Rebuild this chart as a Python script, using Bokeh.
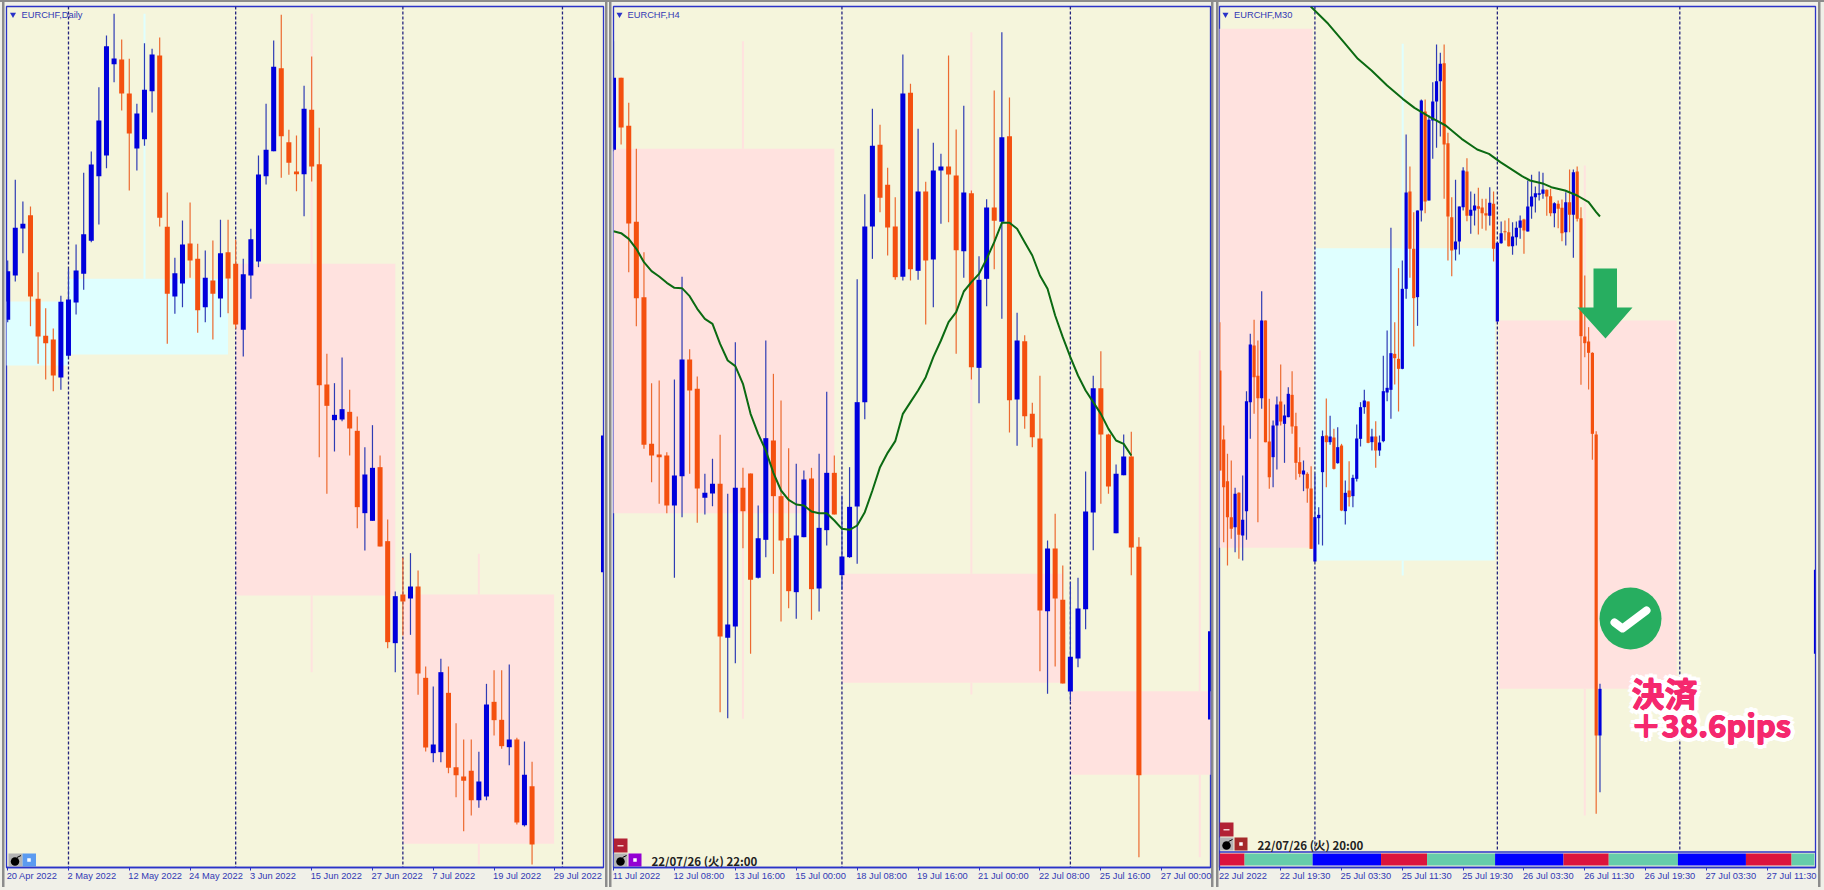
from bokeh.embed import file_html
from bokeh.resources import INLINE
from bokeh.plotting import figure
from bokeh.layouts import row
from bokeh.models import Range1d, FixedTicker, ColumnDataSource, LinearAxis
from bokeh.core.properties import value

# ---------- Daily panel (values are readings on a common vertical price scale) ----------
d_high = [780,538,603,618,815,923,984,886,805,732,517,453,260,105,40,117,175,310,128,145,111,576,772,660,606,730,750,720,658,658,718,775,685,465,310,120,43,388,405,256,168,382,1060,1148,1071,1168,1248,1340,1274,1365,1557,1773,1672,1658,1710,1998,2058,1975,1998,2168,2217,2217,2254,2050,2009,2009,1992,2212,2223,2284]
d_low = [965,843,758,977,1090,1137,1172,1168,1070,942,868,725,672,503,245,330,570,510,436,336,678,1030,940,920,832,997,965,1017,950,938,985,1068,895,800,552,452,532,523,572,647,543,1370,1480,1353,1262,1365,1583,1650,1561,1638,1943,2015,1905,1903,2083,2253,2285,2285,2318,2390,2492,2445,2422,2399,2205,2245,2294,2472,2478,2592]
d_top = [812,682,670,644,895,1006,1017,904,897,810,701,492,360,137,174,177,279,339,268,162,165,679,818,732,729,775,832,840,758,755,790,821,716,522,448,199,203,425,513,325,328,491,1152,1243,1226,1234,1291,1422,1402,1400,1622,1787,1782,1758,1758,2032,2232,2015,2077,2300,2328,2311,2343,2112,2104,2158,2217,2217,2323,2357]
d_bot = [958,825,684,888,1008,1028,1125,1131,1066,906,820,721,527,465,191,279,399,444,416,272,652,880,888,849,780,929,920,880,894,834,972,988,825,783,527,452,407,487,521,521,498,1154,1216,1259,1257,1284,1520,1538,1561,1638,1925,1928,1803,1794,2019,2241,2258,2255,2302,2324,2341,2399,2399,2388,2159,2237,2240,2466,2474,2532]
d_dir = "bbboooobbb" "bbbbboobbb" "oobboobobo" "obbbbbooob" "ooobboobbo" "oboboobboo" "oobboobobo"
d_ticks = [0, 8, 16, 24, 32, 40, 48, 56, 64, 72]
d_labels = ["20 Apr 2022", "2 May 2022", "12 May 2022", "24 May 2022", "3 Jun 2022", "15 Jun 2022", "27 Jun 2022", "7 Jul 2022", "19 Jul 2022", "29 Jul 2022"]
d_seps = [8, 30, 52, 73]
d_zone_l = [-0.2, 8, 30, 52]
d_zone_r = [8, 29, 51, 71.9]
d_zone_t = [903, 835, 790, 1782]
d_zone_b = [1095, 1062, 1785, 2530]
d_zone_c = ["c", "c", "p", "p"]
d_sh_x = [18, 40, 40, 62, 62]
d_sh_t = [40, 40, 1785, 1660, 2530]
d_sh_b = [835, 790, 2015, 1782, 2592]
d_sh_c = ["c", "p", "p", "p", "p"]
d_edge = [1305, 1715]

# ---------- H4 panel ----------
h_high = [122,232,307,445,755,1148,1140,1355,1137,829,1046,1128,1420,1375,1303,1480,1025,1402,1419,1515,1020,1120,1200,1343,1390,1410,1402,1360,1174,1365,1485,1400,836,581,325,373,502,590,162,250,385,544,427,460,165,387,316,570,767,596,270,95,291,937,1004,1207,1126,1620,1540,1695,1745,1732,1413,1126,1052,1300,1392,1302,1294,1610]
h_low = [452,432,815,977,1345,1445,1510,1538,1732,1550,1420,1567,1542,1517,2135,2153,1988,1643,1960,1734,1670,1720,1863,1823,1855,1610,1858,1833,1635,1542,1768,1672,1690,1256,775,635,765,838,840,840,838,972,920,670,665,1060,832,1137,1208,917,806,955,1296,1336,1285,1340,2012,2080,1998,2049,2102,2000,1886,1649,1510,1480,1598,1424,1724,2570]
h_top = [232,232,376,664,890,1330,1362,1365,1425,1077,1077,1165,1477,1450,1450,1872,1462,1462,1419,1613,1313,1320,1487,1613,1605,1437,1434,1582,1417,1417,1668,1519,1205,678,436,433,553,678,279,277,573,573,510,498,498,525,576,578,838,621,621,410,407,1020,1022,1240,1314,1644,1644,1798,1969,1824,1533,1163,1163,1302,1420,1368,1368,1639]
h_bot = [448,381,669,893,1333,1365,1370,1515,1515,1427,1170,1464,1492,1479,1908,1912,1878,1532,1738,1732,1618,1487,1620,1772,1775,1610,1766,1764,1589,1542,1724,1670,1518,1205,678,592,681,830,829,806,811,780,777,510,522,749,752,1100,1102,835,661,664,1199,1197,1247,1310,1830,1832,1794,2049,2073,1974,1826,1536,1302,1458,1598,1424,1641,2324]
h_dir = "booooooobb" "oobbobboob" "booobbobbo" "bbbbbooobo" "bobboobobb" "oboboooboo" "bbbboobboo"
h_ma = [692,698,715,745,785,812,828,847,862,863,887,925,955,970,1030,1080,1097,1150,1240,1300,1350,1417,1470,1498,1512,1515,1533,1538,1538,1560,1585,1588,1575,1535,1470,1400,1357,1322,1240,1205,1170,1130,1070,1020,965,935,873,845,820,775,725,667,667,685,725,765,825,865,945,1010,1070,1125,1170,1205,1240,1285,1320,1330,1365]
h_ticks = [0, 8, 16, 24, 32, 40, 48, 56, 64, 72]
h_labels = ["11 Jul 2022", "12 Jul 08:00", "13 Jul 16:00", "15 Jul 00:00", "18 Jul 08:00", "19 Jul 16:00", "21 Jul 00:00", "22 Jul 08:00", "25 Jul 16:00", "27 Jul 00:00"]
h_seps = [30, 60]
h_zone_l = [-0.2, 30, 60]
h_zone_r = [29, 59, 79]
h_zone_t = [445, 1720, 2072]
h_zone_b = [1538, 2047, 2323]
h_zone_c = ["p", "p", "p"]
h_sh_x = [17, 17, 47, 47, 77, 77]
h_sh_t = [122, 1538, 95, 2047, 1050, 2323]
h_sh_b = [445, 2155, 1720, 2082, 2072, 2570]
h_sh_c = ["p", "p", "p", "p", "p", "p"]
h_edge = [1892, 2157]

# ---------- M30 panel ----------
m_high = [965,1275,1360,1380,1462,1475,1425,1172,1000,958,1020,872,960,1195,1260,1188,1092,1212,1160,1112,1237,1340,1380,1415,1397,1420,1520,1290,1194,1246,1285,1280,1330,1440,1382,1423,1272,1205,1168,1203,1285,1262,1305,1066,990,682,965,803,780,402,498,635,630,297,297,345,245,132,157,132,397,590,538,618,500,473,573,580,562,595,595,560,573,727,663,660,653,665,663,645,655,540,523,558,513,517,567,565,605,600,597,575,507,507,498,620,825,980,1055,1292,2050]
m_low = [1410,1625,1695,1615,1655,1675,1680,1618,1315,1240,1565,1225,1325,1465,1460,1407,1275,1387,1250,1300,1438,1430,1472,1507,1645,1685,1632,1635,1460,1333,1407,1390,1532,1572,1518,1520,1443,1338,1240,1328,1350,1402,1366,1325,1202,1255,1152,1233,1106,895,832,1038,976,663,638,600,475,442,408,595,780,827,780,762,630,662,700,675,702,685,690,675,783,963,730,720,738,763,735,715,760,693,655,636,600,595,646,647,680,683,722,735,695,772,663,1153,1070,1167,1378,2440,2375]
m_top = [1110,1317,1442,1550,1480,1477,1558,1202,1032,1035,1126,960,960,1323,1275,1212,1203,1245,1180,1183,1277,1385,1410,1420,1464,1550,1543,1307,1305,1308,1311,1340,1335,1477,1470,1432,1314,1220,1200,1203,1308,1308,1326,1172,1162,1058,1060,1075,865,576,573,745,630,300,333,358,303,242,190,188,428,650,723,618,510,513,628,615,617,621,638,607,610,727,698,692,695,708,682,660,657,618,588,578,578,567,568,587,608,610,622,605,605,515,513,653,1008,1023,1057,1302,2065]
m_bot = [1410,1460,1550,1585,1580,1603,1605,1532,1205,1130,1193,1193,1325,1430,1370,1275,1263,1270,1250,1278,1387,1420,1422,1464,1645,1683,1553,1415,1325,1325,1405,1388,1530,1532,1490,1487,1435,1315,1220,1327,1325,1350,1350,1322,1176,1168,1073,1105,1105,865,745,893,890,630,603,600,360,303,242,432,648,750,747,723,620,646,646,630,625,638,645,646,745,963,728,695,737,737,710,682,690,693,618,590,583,580,588,638,638,625,698,695,643,643,655,1007,1028,1057,1300,2205,2205]
m_dir = "oooobobbbo" "oboobbobbo" "ooboobbbob" "obobobbbbo" "bobbbboobb" "oobbobbbbo" "oobbbobboo" "obobboobbb" "obbbbboobo" "oboboooooo" "b"
m_ma_x = [23.9, 28.5, 32.6, 36.3, 39.9, 44, 48.1, 51.2, 55.3, 59.4, 63.6, 67.7, 70.8, 73.8, 79.5, 81.6, 85.2, 87.2, 90.8, 94, 97, 99, 100]
m_ma = [18, 70, 125, 175, 210, 255, 295, 322, 350, 375, 415, 447, 460, 485, 527, 540, 550, 560, 570, 585, 605, 635, 648]
m_ticks = [0, 16, 32, 48, 64, 80, 96, 112, 128, 144]
m_labels = ["22 Jul 2022", "22 Jul 19:30", "25 Jul 03:30", "25 Jul 11:30", "25 Jul 19:30", "26 Jul 03:30", "26 Jul 11:30", "26 Jul 19:30", "27 Jul 03:30", "27 Jul 11:30"]
m_seps = [25, 73, 121]
m_zone_l = [-0.2, 25, 73.5]
m_zone_r = [24.4, 72.4, 120.2]
m_zone_t = [85, 743, 960]
m_zone_b = [1642, 1680, 2065]
m_zone_c = ["p", "c", "p"]
m_sh_x = [48.1, 48.1, 96, 96]
m_sh_t = [130, 1680, 495, 2065]
m_sh_b = [743, 1725, 960, 2445]
m_sh_c = ["c", "c", "p", "p"]
m_edge = [1708, 1960]
m_sess_edges = [-0.1, 6.5, 24.4, 42.4, 54.5, 72.4, 90.4, 102.3, 120.5, 138.4, 150.4, 156.4]
m_sess_names = ["tokyo", "london", "ny", "tokyo", "london", "ny", "tokyo", "london", "ny", "tokyo", "london"]

BG = "#F5F5DC"
PAPER = "#F0F0E8"
CHROME = "#8C8C8C"
FRAME = "#2A33C8"
ZONE = {"p": "#FFE2DF", "c": "#DFFFFF"}
BODY = {"b": "#0000DC", "o": "#F4500F"}
WICK = {"b": "#2E3CB4", "o": "#EC6A30"}
SESS = {"tokyo": "#DC143C", "london": "#66CDAA", "ny": "#0000FF"}
TICK_FONT = "Liberation Sans"
TICK_PX = 9.3
CHAR_W = {" ": .278, ":": .278, "A": .667, "p": .556, "r": .333, "M": .833, "a": .556, "y": .5, "J": .5, "u": .556, "n": .556, "l": .222}


def price(r):
    return 1.05 - r * 2e-5


def text_width(s):
    return sum(CHAR_W.get(c, .556) for c in s) * TICK_PX


def panel(high, low, top, bot, dirs, x0, x1, left, right, width, ticks, labels, seps, zl, zr, zt, zb, zc, sx, st, sb, sc, edge, sep_bottom=2601):
    p = figure(width=width, height=890, output_backend="svg", toolbar_location=None,
               x_range=Range1d(x0, x1), y_range=Range1d(price(2601), price(18)),
               min_border_left=left, min_border_right=right, min_border_top=6, min_border_bottom=23)
    p.background_fill_color = BG
    p.border_fill_color = None
    p.outline_line_color = FRAME
    p.outline_line_width = 1.3
    p.grid.visible = False
    p.yaxis.visible = False
    ax = p.xaxis[0]
    ax.ticker = FixedTicker(ticks=ticks)
    ax.major_label_overrides = {t: "" for t in ticks}
    ax.axis_line_color = FRAME
    ax.axis_line_width = 1.3
    ax.major_tick_line_color = FRAME
    ax.major_tick_in = 0
    ax.major_tick_out = 3
    ax.minor_tick_line_color = None
    ax.major_label_standoff = 0

    # tick labels start at their tick, so they hang on an axis of their own, shifted by half a label
    unit_px = (width - left - right) / (x1 - x0)
    pos = [round(t + (text_width(l) / 2 - 1) / unit_px, 4) for t, l in zip(ticks, labels)]
    lab = LinearAxis(ticker=FixedTicker(ticks=pos), major_label_overrides=dict(zip(pos, labels)),
                     axis_line_color=None, major_tick_line_color=None, minor_tick_line_color=None,
                     major_tick_in=0, major_tick_out=0, major_label_standoff=0,
                     major_label_text_color="#3238B4", major_label_text_font=TICK_FONT,
                     major_label_text_font_size=f"{TICK_PX}px")
    p.add_layout(lab, "below")

    p.quad(left=zl, right=zr, top=[price(v) for v in zt], bottom=[price(v) for v in zb],
           fill_color=[ZONE[c] for c in zc], line_color=None)
    p.segment(x0=sx, x1=sx, y0=[price(v) for v in st], y1=[price(v) for v in sb],
              line_color=[ZONE[c] for c in sc], line_width=2)
    p.segment(x0=seps, x1=seps, y0=[price(18)] * len(seps), y1=[price(sep_bottom)] * len(seps),
              line_color="#23237E", line_width=1.3, line_dash="3 2")

    idx = list(range(len(high)))
    cds = ColumnDataSource(dict(
        x=idx, h=[price(v) for v in high], l=[price(v) for v in low],
        t=[price(v) for v in top], b=[price(v) for v in bot],
        wc=[WICK[d] for d in dirs], bc=[BODY[d] for d in dirs]))
    p.segment(x0="x", x1="x", y0="h", y1="l", source=cds, line_color="wc", line_width=1.2)
    bw = 0.66 if x1 < 100 else 0.84
    p.vbar(x="x", width=bw, top="t", bottom="b", source=cds, fill_color="bc", line_color=None)
    p.vbar(x=[x1], width=bw, top=[price(edge[0])], bottom=[price(edge[1])], fill_color=BODY["b"], line_color=None)
    return p


def mapper(offs_left, fw, x0, x1):
    def fx(t):
        return x0 + (t - offs_left) / fw * (x1 - x0)
    def fy(t):
        return price(t * 3)
    return fx, fy


def header(p, fx, fy, name, tx, tri):
    p.scatter([fx(tri)], [fy(14)], marker="inverted_triangle", size=6, color="#2A33C8", line_color=None)
    p.text([fx(tx)], [fy(14)], text=[name], text_font=value(TICK_FONT), text_font_size="9.3px",
           text_color="#3238B4", text_baseline="middle", text_align="left")


def btn(p, fx, fy, x0, y0, x1, y1, color):
    p.quad(left=[fx(x0)], right=[fx(x1)], top=[fy(y0)], bottom=[fy(y1)], fill_color=color, line_color=None)


def bomb(p, fx, fy, cx, cy):
    p.scatter([fx(cx)], [fy(cy + 1)], marker="circle", size=8.5, color="black", line_color=None)
    p.line([fx(cx + 2), fx(cx + 6)], [fy(cy - 3), fy(cy - 5)], line_color="black", line_width=1)


def dot(p, fx, fy, cx, cy):
    p.scatter([fx(cx)], [fy(cy)], marker="square", size=3.5, color="white", line_color=None)


# ---------- panels ----------
p1 = panel(d_high, d_low, d_top, d_bot, d_dir, -0.156, 78.4, 6, 5, 608, d_ticks, d_labels, d_seps,
           d_zone_l, d_zone_r, d_zone_t, d_zone_b, d_zone_c, d_sh_x, d_sh_t, d_sh_b, d_sh_c, d_edge)
fx1, fy1 = mapper(6, 597, -0.156, 78.4)
header(p1, fx1, fy1, "EURCHF,Daily", 21, 12.5)
btn(p1, fx1, fy1, 8, 853, 22, 866, "#B4B4B4")
btn(p1, fx1, fy1, 22, 853, 35.5, 866, "#5B9BF0")
bomb(p1, fx1, fy1, 14.5, 860)
dot(p1, fx1, fy1, 28.5, 859.5)

p2 = panel(h_high, h_low, h_top, h_bot, h_dir, 0.0, 78.4, 5, 4, 606, h_ticks, h_labels, h_seps,
           h_zone_l, h_zone_r, h_zone_t, h_zone_b, h_zone_c, h_sh_x, h_sh_t, h_sh_b, h_sh_c, h_edge)
fx2, fy2 = mapper(613, 597, 0.0, 78.4)
p2.line(list(range(len(h_ma))), [price(v) for v in h_ma], line_color="#0B6A12", line_width=2)
header(p2, fx2, fy2, "EURCHF,H4", 627, 619)
btn(p2, fx2, fy2, 613, 838, 627, 852, "#B22234")
btn(p2, fx2, fy2, 617, 844.5, 623, 846, "#F4D0D0")
btn(p2, fx2, fy2, 613, 853, 627, 866, "#B4B4B4")
btn(p2, fx2, fy2, 628, 853, 641, 866, "#9400D3")
bomb(p2, fx2, fy2, 620, 860)
dot(p2, fx2, fy2, 634.5, 859.5)
p2.text([fx2(651)], [fy2(860)], text=["22/07/26 (火) 22:00"], text_font=value("Noto Sans CJK JP"), text_font_style="bold",
        text_font_size="11.5px", text_color="#222222", text_baseline="middle", text_align="left")

p3 = panel(m_high, m_low, m_top, m_bot, m_dir, -0.1, 156.7, 5, 9, 610, m_ticks, m_labels, m_seps,
           m_zone_l, m_zone_r, m_zone_t, m_zone_b, m_zone_c, m_sh_x, m_sh_t, m_sh_b, m_sh_c, m_edge, sep_bottom=2552)
fx3, fy3 = mapper(1219, 596, -0.1, 156.7)
p3.line(m_ma_x, [price(v) for v in m_ma], line_color="#0B6A12", line_width=2)
p3.quad(left=m_sess_edges[:-1], right=m_sess_edges[1:], top=[fy3(853)] * len(m_sess_names), bottom=[fy3(865)] * len(m_sess_names),
        fill_color=[SESS[s] for s in m_sess_names], line_color=None)
p3.line([fx3(1219), fx3(1815)], [fy3(851.5)] * 2, line_color=FRAME, line_width=1.3)
header(p3, fx3, fy3, "EURCHF,M30", 1233.5, 1225)
btn(p3, fx3, fy3, 1219, 822, 1233, 836, "#B22234")
btn(p3, fx3, fy3, 1223, 828.5, 1229, 830, "#F4D0D0")
btn(p3, fx3, fy3, 1219, 837, 1233, 850, "#B4B4B4")
btn(p3, fx3, fy3, 1234, 837, 1247, 850, "#A52A2A")
bomb(p3, fx3, fy3, 1226, 844)
dot(p3, fx3, fy3, 1240.5, 843.5)
p3.text([fx3(1257)], [fy3(844)], text=["22/07/26 (火) 20:00"], text_font=value("Noto Sans CJK JP"), text_font_style="bold",
        text_font_size="11.5px", text_color="#222222", text_baseline="middle", text_align="left")

# trade annotations on the M30 panel
GREEN = "#27AE60"
arrow_x = [1593, 1616.5, 1616.5, 1632, 1605, 1577, 1593]
arrow_y = [268, 268, 307, 307, 338, 307, 307]
p3.patch([fx3(v) for v in arrow_x], [fy3(v) for v in arrow_y], fill_color=GREEN, line_color=None)
p3.scatter([fx3(1630)], [fy3(618)], marker="circle", size=62, color=GREEN, line_color=None)
p3.line([fx3(1614), fx3(1622), fx3(1646)], [fy3(622), fy3(628), fy3(610)], line_color="white", line_width=8,
        line_join="round", line_cap="round")

result_lines = ["決済", "＋38.6pips"]
result_x = [1631, 1630]
result_y = [692, 723]
result_size = ["33px", "31px"]
halo = [(-5, 0), (5, 0), (0, -5), (0, 5), (-4, -4), (4, -4), (-4, 4), (4, 4), (-2.5, 0), (2.5, 0), (0, -2.5), (0, 2.5)]
weight = [(-0.6, 0), (0.6, 0), (0, -0.5), (0, 0.5)]
for txt, tx, ty, sz in zip(result_lines, result_x, result_y, result_size):
    p3.text([fx3(tx + 4)], [fy3(ty + 4)], text=[txt], text_font=value("Noto Sans CJK JP"), text_font_style="bold",
            text_font_size=sz, text_color="#888888", text_alpha=0.35, text_baseline="alphabetic")
    for ox, oy in halo:
        p3.text([fx3(tx + ox)], [fy3(ty + oy)], text=[txt], text_font=value("Noto Sans CJK JP"), text_font_style="bold",
                text_font_size=sz, text_color="white", text_baseline="alphabetic")
    for ox, oy in weight:
        p3.text([fx3(tx + ox)], [fy3(ty + oy)], text=[txt], text_font=value("Noto Sans CJK JP"), text_font_style="bold",
                text_font_size=sz, text_color="#F5286E", text_baseline="alphabetic")

# window chrome shows through the transparent figure borders
stripes = [(0, 0, 1824, 2), (2, 2, 2.5, 885), (605, 2, 2.5, 885), (609, 2, 2.5, 885), (1211, 2, 2.5, 885), (1215.5, 2, 2.5, 885), (1818, 2, 2.5, 885)]
layers = [f"linear-gradient({CHROME},{CHROME}) {x}px {y}px/{w}px {h}px no-repeat" for x, y, w, h in stripes]
page = row(p1, p2, p3, spacing=0, styles={"position": "absolute", "left": "0px", "top": "0px", "width": "1824px", "height": "890px",
                                          "background": ", ".join(layers) + f", {PAPER}"})
open("out.html", "w").write(file_html(page, INLINE))
